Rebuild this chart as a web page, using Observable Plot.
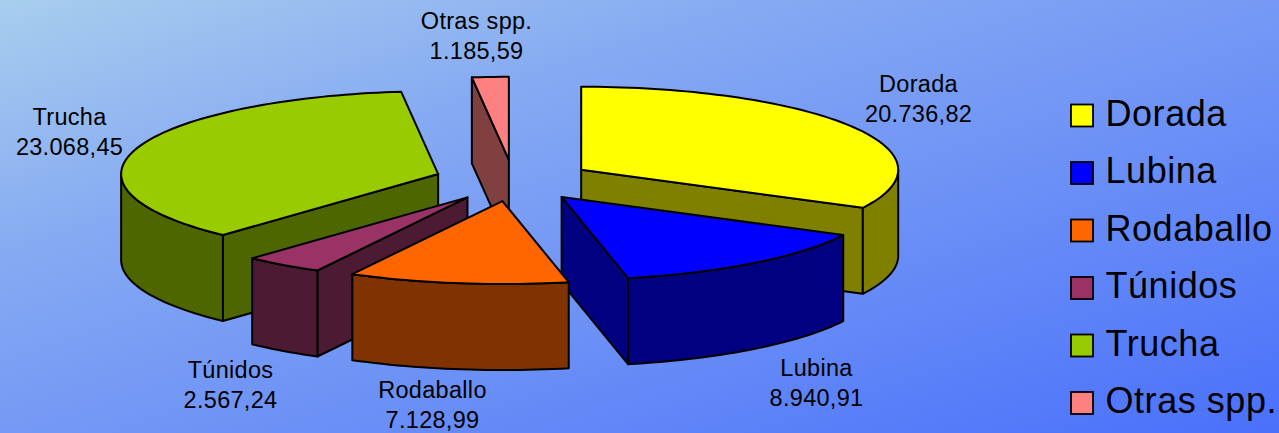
<!DOCTYPE html>
<html>
<head>
<meta charset="utf-8">
<script src="https://cdn.jsdelivr.net/npm/d3@7"></script>
<script src="https://cdn.jsdelivr.net/npm/@observablehq/plot@0.6"></script>
<style>
html,body{margin:0;padding:0;overflow:hidden;background:#6d8ff4}
svg{display:block}
.lbl text{letter-spacing:.3px}
.leg text{letter-spacing:.55px}
</style>
</head>
<body>
<div id="chart"></div>
<script>
const species = ["Dorada","Lubina","Rodaballo","Túnidos","Trucha","Otras spp."];
const tonnes = [20736.82,8940.91,7128.99,2567.24,23068.45,1185.59];
const topColors = ["#ffff00","#0000ff","#ff6600","#993366","#99cc00","#ff8080"];
const sideColors = ["#808000","#000080","#803300","#4d1a33","#4d6600","#804040"];
const labelX = [918,816,432,230,69,476];
const labelY = [100,384,406,386,133,37];
// order in which slices are painted, back to front
const paintOrder = [5,4,0,3,1,2];

const pie = {cx:513, cy:180, a:317, b:83, depth:86, explode:0.25};
const total = d3.sum(tonnes);
const es = d3.formatLocale({decimal:",",thousands:".",grouping:[3],currency:["","€"]}).format(",.2f");
const rad = Math.PI/180;

let run = 0;
const slices = tonnes.map((v,i)=>{
  const t1 = run; run += v/total*360; const t2 = run;
  const mid = (t1+t2)/2*rad;
  return {i,t1,t2,ox:pie.cx+pie.explode*pie.a*Math.sin(mid),oy:pie.cy-pie.explode*pie.b*Math.cos(mid)};
});
const rim = (s,t,dz=0)=>({x:s.ox+pie.a*Math.sin(t*rad),y:s.oy-pie.b*Math.cos(t*rad)+dz});
const arc = (s,t1,t2,dz=0)=>{
  const n = Math.max(2,Math.ceil((t2-t1)/1.5));
  return d3.range(n+1).map(k=>rim(s,t1+(t2-t1)*k/n,dz));
};
const polys = [];
const push = (pts,color)=>{
  const id = polys.length ? polys[polys.length-1].id+1 : 0;
  [...pts,pts[0]].forEach(p=>polys.push({x:p.x,y:p.y,id,color}));
};
for (const o of paintOrder){
  const s = slices[o], side = sideColors[o];
  const apex = {x:s.ox,y:s.oy}, apexB = {x:s.ox,y:s.oy+pie.depth};
  const face = t=>push([apex,rim(s,t),rim(s,t,pie.depth),apexB],side);
  if (Math.sin(s.t1*rad) < -1e-6) face(s.t1);
  if (Math.sin(s.t2*rad) > 1e-6) face(s.t2);
  const w1 = Math.max(s.t1,90), w2 = Math.min(s.t2,270);
  if (w2 > w1) push([...arc(s,w1,w2),...arc(s,w1,w2,pie.depth).reverse()],side);
  push([apex,...arc(s,s.t1,s.t2)],topColors[o]);
}

const rows = species.map((name,i)=>({name,i,label:name+"\n"+es(tonnes[i]),lx:labelX[i],ly:labelY[i]-3,color:topColors[i]}));
const legY = i=>115.5+57.5*i;

const plot = Plot.plot({
  width:1279,height:433,margin:0,
  x:{domain:[0,1279],range:[0,1279],axis:null},
  y:{domain:[0,433],range:[0,433],axis:null},
  color:{type:"identity"},
  style:{background:"linear-gradient(to bottom right,#a8ceee 0%,#86aaf2 30%,#4a70fb 100%)",fontFamily:"'Liberation Sans',Arial,sans-serif",color:"#000"},
  marks:[
    Plot.line(polys,{x:"x",y:"y",z:"id",fill:"color",stroke:"#000",strokeWidth:2,strokeLinejoin:"round",curve:"linear"}),
    Plot.text(rows,{x:"lx",y:"ly",text:"label",fontSize:23.5,lineHeight:30/23.5,fill:"#000",className:"lbl"}),
    Plot.rect(rows,{x1:()=>1071,x2:()=>1093,y1:d=>legY(d.i)-11,y2:d=>legY(d.i)+11,fill:"color",stroke:"#000",strokeWidth:1.8,inset:0}),
    Plot.text(rows,{x:()=>1105,y:d=>legY(d.i)-2,text:"name",textAnchor:"start",fontSize:36,fill:"#000",className:"leg"})
  ]
});
document.getElementById("chart").appendChild(plot);
</script>
</body>
</html>
